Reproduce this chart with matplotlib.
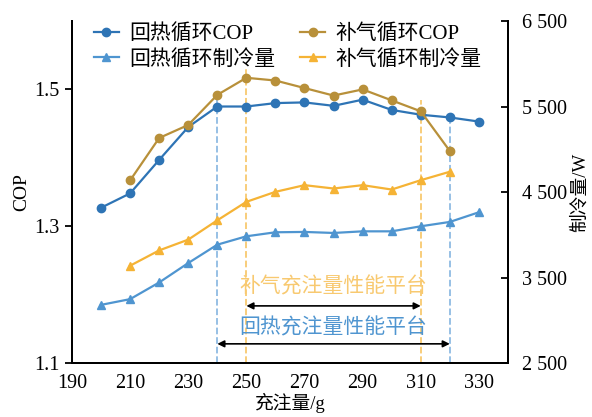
import numpy as np
import matplotlib
matplotlib.use("Agg")
import matplotlib.pyplot as plt

plt.rcParams['font.family'] = ['Liberation Serif', 'Noto Sans CJK SC']
plt.rcParams['axes.unicode_minus'] = False

# 充注量/g
x_hr = [200, 210, 220, 230, 240, 250, 260, 270, 280, 290, 300, 310, 320, 330]
x_vi = [210, 220, 230, 240, 250, 260, 270, 280, 290, 300, 310, 320]

# 回热循环
cop_hr = [1.327, 1.348, 1.397, 1.445, 1.475, 1.475, 1.480, 1.481, 1.476,
          1.485, 1.470, 1.463, 1.459, 1.453]
q_hr = [3180, 3247, 3442, 3669, 3884, 3982, 4029, 4033, 4021, 4040, 4040,
        4099, 4150, 4263]

# 补气循环
cop_vi = [1.367, 1.429, 1.448, 1.492, 1.517, 1.513, 1.502, 1.491, 1.500,
          1.484, 1.468, 1.410]
q_vi = [3638, 3817, 3943, 4169, 4385, 4502, 4580, 4541, 4580, 4529, 4638,
        4737]

x_ticks = [190, 210, 230, 250, 270, 290, 310, 330]
cop_ticks = [1.1, 1.3, 1.5]
q_ticks = [2500, 3500, 4500, 5500, 6500]
q_ticklabels = ['2 500', '3 500', '4 500', '5 500', '6 500']

c_hr = '#2e74b5'
c_hr_q = '#4f95d0'
c_vi = '#b8903a'
c_vi_q = '#f5b335'
c_dash_b = '#8fbbe3'
c_dash_y = '#f8c970'

fig = plt.figure(figsize=(5.92, 4.17), dpi=100)
ax = fig.add_axes([0.1216, 0.1295, 0.7364, 0.8201])
ax2 = ax.twinx()

# 平台分界虚线
ax.plot([240, 240], [1.1, 1.497], ls='--', color=c_dash_b, lw=1.3, zorder=1)
ax.plot([320, 320], [1.1, 1.461], ls='--', color=c_dash_b, lw=1.3, zorder=1)
ax.plot([250, 250], [1.1, 1.53], ls='--', color=c_dash_y, lw=1.3, zorder=1)
ax.plot([310, 310], [1.1, 1.485], ls='--', color=c_dash_y, lw=1.3, zorder=1)

l1, = ax.plot(x_hr, cop_hr, '-o', color=c_hr, lw=1.6, ms=6, label='回热循环COP', zorder=3)
l3, = ax.plot(x_vi, cop_vi, '-o', color=c_vi, lw=1.6, ms=6, label='补气循环COP', zorder=3)
l2, = ax2.plot(x_hr, q_hr, '-^', color=c_hr_q, lw=1.6, ms=6, label='回热循环制冷量')
l4, = ax2.plot(x_vi, q_vi, '-^', color=c_vi_q, lw=1.6, ms=6, label='补气循环制冷量')

ax.set_xlim(190, 340)
ax.set_ylim(1.1, 1.6)
ax2.set_ylim(2500, 6500)
ax.set_xticks(x_ticks)
ax.set_yticks(cop_ticks)
ax2.set_yticks(q_ticks)
ax2.set_yticklabels(q_ticklabels)

ax.tick_params(axis='x', length=0, labelsize=14.5, pad=8)
ax.tick_params(axis='y', direction='out', length=5, width=1.3, labelsize=14.5, pad=4)
ax2.tick_params(axis='y', direction='in', length=5, width=1.3, labelsize=14.5, pad=10)

for a in (ax, ax2):
    a.spines['top'].set_visible(False)
    for s in ('left', 'right', 'bottom'):
        a.spines[s].set_linewidth(1.4)

ax.set_xlabel('充注量/g', fontsize=13.5, labelpad=0)
ax.set_ylabel('COP', fontsize=14, labelpad=3)
ax2.set_ylabel('制冷量/W', fontsize=13.5, rotation=90, labelpad=3)

# 性能平台标注
ax.annotate('', xy=(250, 1.1835), xytext=(310, 1.1835),
            arrowprops=dict(arrowstyle='<|-|>', color='black', lw=1.2,
                            mutation_scale=10, shrinkA=0, shrinkB=0))
ax.annotate('', xy=(240, 1.128), xytext=(320, 1.128),
            arrowprops=dict(arrowstyle='<|-|>', color='black', lw=1.2,
                            mutation_scale=10, shrinkA=0, shrinkB=0))
ax.text(280, 1.211, '补气充注量性能平台', color=c_dash_y, fontsize=15,
        ha='center', va='center')
ax.text(280, 1.151, '回热充注量性能平台', color=c_hr_q, fontsize=15,
        ha='center', va='center')

leg = ax.legend(handles=[l1, l2, l3, l4], ncol=2, loc='upper center',
                bbox_to_anchor=(0.495, 1.045), frameon=False, fontsize=15,
                handlelength=1.2, handletextpad=0.5, columnspacing=1.2,
                labelspacing=0.25)

fig.savefig('out.png', dpi=100)
